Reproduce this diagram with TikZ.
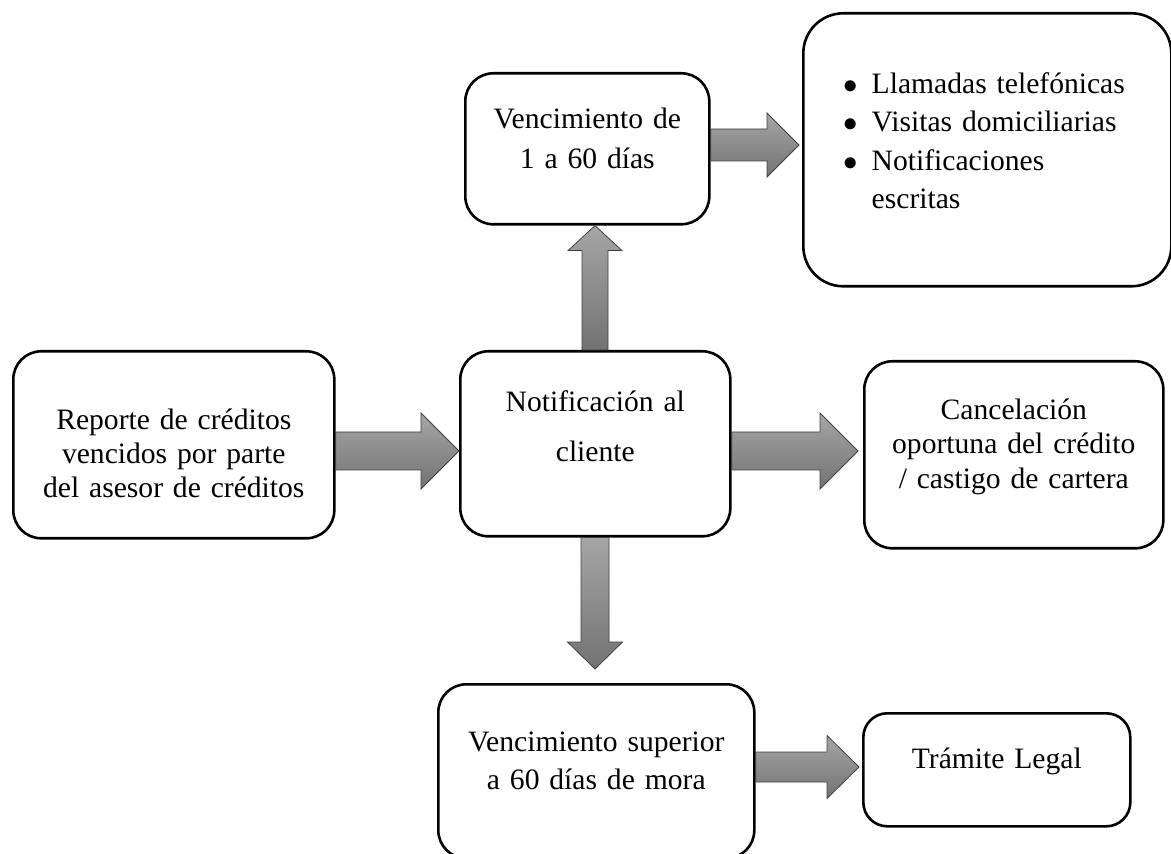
\documentclass[tikz,border=0pt]{standalone}
\usepackage{fontspec}
\setmainfont{Liberation Serif}
\usetikzlibrary{calc}

\newcommand{\tam}[1]{\fontsize{14.8}{#1}\selectfont}
\newcommand{\flecha}[5]{%
  \shade[flecha] let \p1=(#1), \p2=(#2), \p3=($(\p2)!#5!(\p1)$) in
    ($(\p1)!#3!90:(\p2)$) -- ($(\p3)!#3!-90:(\p1)$) -- ($(\p3)!#4!-90:(\p1)$) -- (\p2)
    -- ($(\p3)!#4!90:(\p1)$) -- ($(\p3)!#3!90:(\p1)$) -- ($(\p1)!#3!-90:(\p2)$) -- cycle;}

\begin{document}
\begin{tikzpicture}[x=0.5pt, y=-0.5pt,
  box/.style={draw, rounded corners=14pt, line width=1.3pt, align=center,
    inner sep=0pt, anchor=north west, font=\tam{17}},
  flecha/.style={draw=black!75, line width=0.4pt, top color=black!35, bottom color=black!55}]
	\useasboundingbox (0,0) rectangle (1171,854);

	\node[box, text width=160.5pt, text height=39pt, text depth=54.5pt] (reporte) at (12,350)
	  {Reporte de créditos\\vencidos por parte\\del asesor de créditos};
	\node[box, text width=135pt, text height=30pt, text depth=62.5pt, font=\tam{25}] (notif) at (459,350)
	  {Notificación al\\cliente};
	\node[box, text width=122pt, text height=27.5pt, text depth=48pt, font=\tam{20}] (venc1) at (464,72)
	  {Vencimiento de\\1 a 60 días};
	\node[box, rounded corners=20pt, text width=184pt, text height=40pt, text depth=96.5pt,
	  align=left, font=\tam{19.25}] (lista) at (802,12)
	  {\hspace*{20pt}\begin{tabular}[t]{@{}l@{\hspace{7pt}}l@{}}
	    $\bullet$ & Llamadas telefónicas\\
	    $\bullet$ & Visitas domiciliarias\\
	    $\bullet$ & Notificaciones\\
	    & escritas
	  \end{tabular}};
	\node[box, text width=149.5pt, text height=29pt, text depth=64.5pt, font=\tam{17.25}] (cancel) at (863,360)
	  {Cancelación\\oportuna del crédito\\/ castigo de cartera};
	\node[box, text width=158pt, text height=33.5pt, text depth=53.5pt, font=\tam{19}] (venc2) at (437,683)
	  {Vencimiento superior\\a 60 días de mora};
	\node[box, rounded corners=12pt, text width=133.5pt, text height=27.5pt, text depth=29pt] (legal) at (862,712)
	  {Trámite Legal};

	\flecha{reporte.east |- 0,451}{notif.west |- 0,451}{9.5pt}{19pt}{19pt}
	\flecha{notif.north -| 595,0}{venc1.south -| 595,0}{6.5pt}{13.5pt}{12.5pt}
	\flecha{notif.south -| 595,0}{$(venc2.north -| 595,0)+(0,-14)$}{7pt}{13.75pt}{13.5pt}
	\flecha{venc1.east |- 0,145}{$(lista.west |- 0,145)+(-3,0)$}{8pt}{16pt}{16pt}
	\flecha{notif.east |- 0,451}{$(cancel.west |- 0,451)+(-5,0)$}{9.5pt}{19pt}{19pt}
	\flecha{venc2.east |- 0,767}{$(legal.west |- 0,767)+(-3,0)$}{7.5pt}{15.75pt}{16pt}
\end{tikzpicture}
\end{document}
